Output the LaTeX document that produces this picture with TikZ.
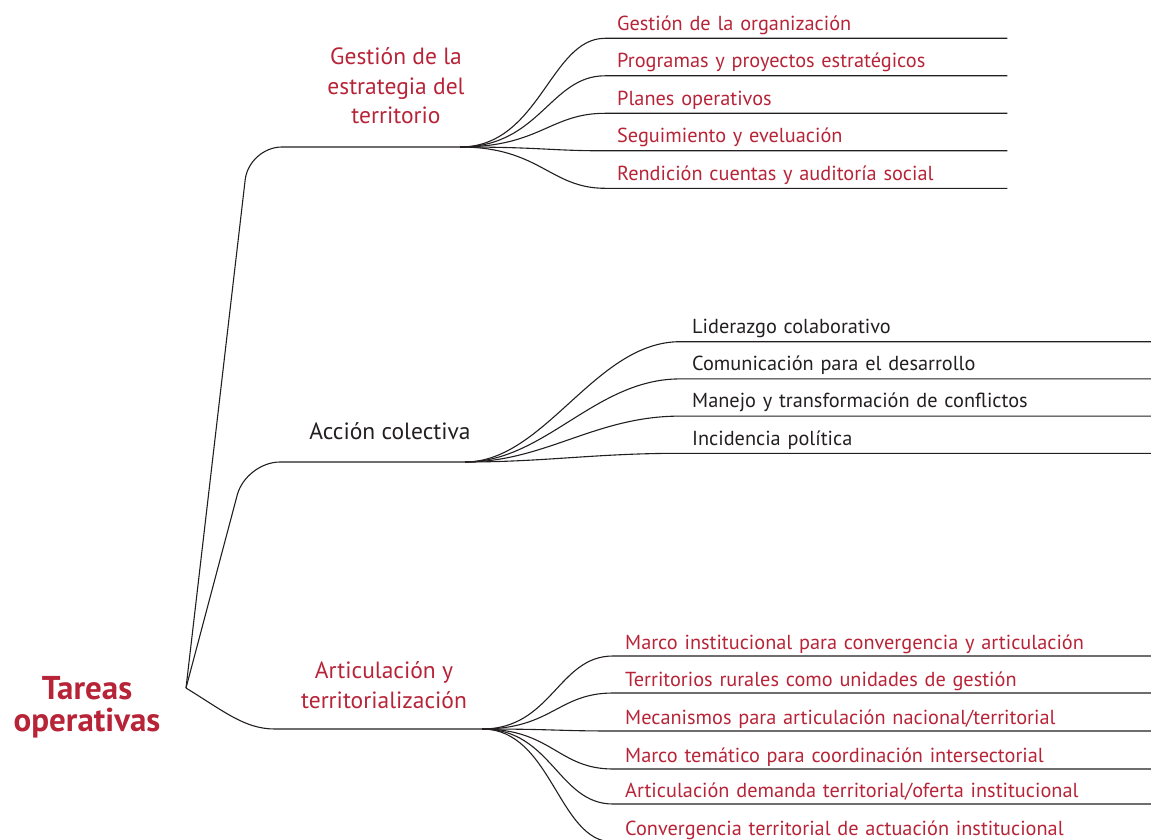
\documentclass[tikz,border=0pt]{standalone}
\usepackage{fontspec}
\setmainfont{PT Sans}
\usetikzlibrary{positioning}
\definecolor{tarea}{RGB}{183,36,56}
\definecolor{tinta}{RGB}{35,31,32}

\begin{document}
\begin{tikzpicture}[x=1pt,y=-1pt,
  link/.style={tinta,line width=1.1pt},
  leaf/.style={anchor=south west,inner xsep=12pt,inner ysep=3pt,text height=15pt,text depth=5pt,align=left,font=\fontsize{20.3}{24}\selectfont},
  leafa/.style={leaf,tarea,text width=378pt},
  leafb/.style={leaf,tinta,text width=447pt},
  leafc/.style={leaf,tarea,text width=514pt,inner ysep=1.5pt},
  rama/.style={align=center,font=\fontsize{23.5}{29.5}\selectfont},
]
\useasboundingbox (0,0) rectangle (1151,840);

\node[tarea,align=center,font=\bfseries\fontsize{33}{31.5}\selectfont] (root) at (87,707) {Tareas\\operativas};
\coordinate (hub) at (186,688);

\node[rama,tarea] (b1) at (396,86) {Gestión de la\\estrategia del\\territorio};
\node[rama,tinta] (b2) at (390,431) {Acción colectiva};
\node[rama,tarea] (b3) at (384,685) {Articulación y\\territorialización};

\coordinate (k1) at (249,147);
\coordinate (k2) at (246,462);
\coordinate (f1) at (460,147);
\coordinate (f2) at (465,462);
\coordinate (f3) at (482,729);

\draw[link,rounded corners=33pt] (hub) -- (k1) -- (f1);
\draw[link,rounded corners=34pt] (hub) -- (k2) -- (f2);
\draw[link] (hub) .. controls (225,712) and (245,729) .. (275,729) -- (f3);

\foreach \t [count=\i] in {Gestión de la organización,Programas y proyectos estratégicos,Planes operativos,Seguimiento y eveluación,Rendición cuentas y auditoría social}{
  \node[leafa] (g\i) at (605,0.8+37.5*\i) {\t};
  \draw[link] (f1) .. controls +(80,0) and +(-55,0) .. (g\i.south west) -- (g\i.south east);
}

\foreach \t [count=\i] in {Liderazgo colaborativo,Comunicación para el desarrollo,Manejo y transformación de conflictos,Incidencia política}{
  \node[leafb] (a\i) at (680,304.5+37.2*\i) {\t};
  \draw[link] (f2) .. controls +(80,0) and +(-85,0) .. (a\i.south west) -- (a\i.south east);
}

\foreach \y/\t [count=\i] in {656/{Marco institucional para convergencia y articulación},693/{Territorios rurales como unidades de gestión},731/{Mecanismos para articulación nacional/territorial},769/{Marco temático para coordinación intersectorial},804/{Articulación demanda territorial/oferta institucional},842/{Convergencia territorial de actuación institucional}}{
  \node[leafc] (t\i) at (613,\y) {\t};
  \draw[link] (f3) .. controls +(70,0) and +(-55,0) .. (t\i.south west) -- (t\i.south east);
}
\end{tikzpicture}
\end{document}
